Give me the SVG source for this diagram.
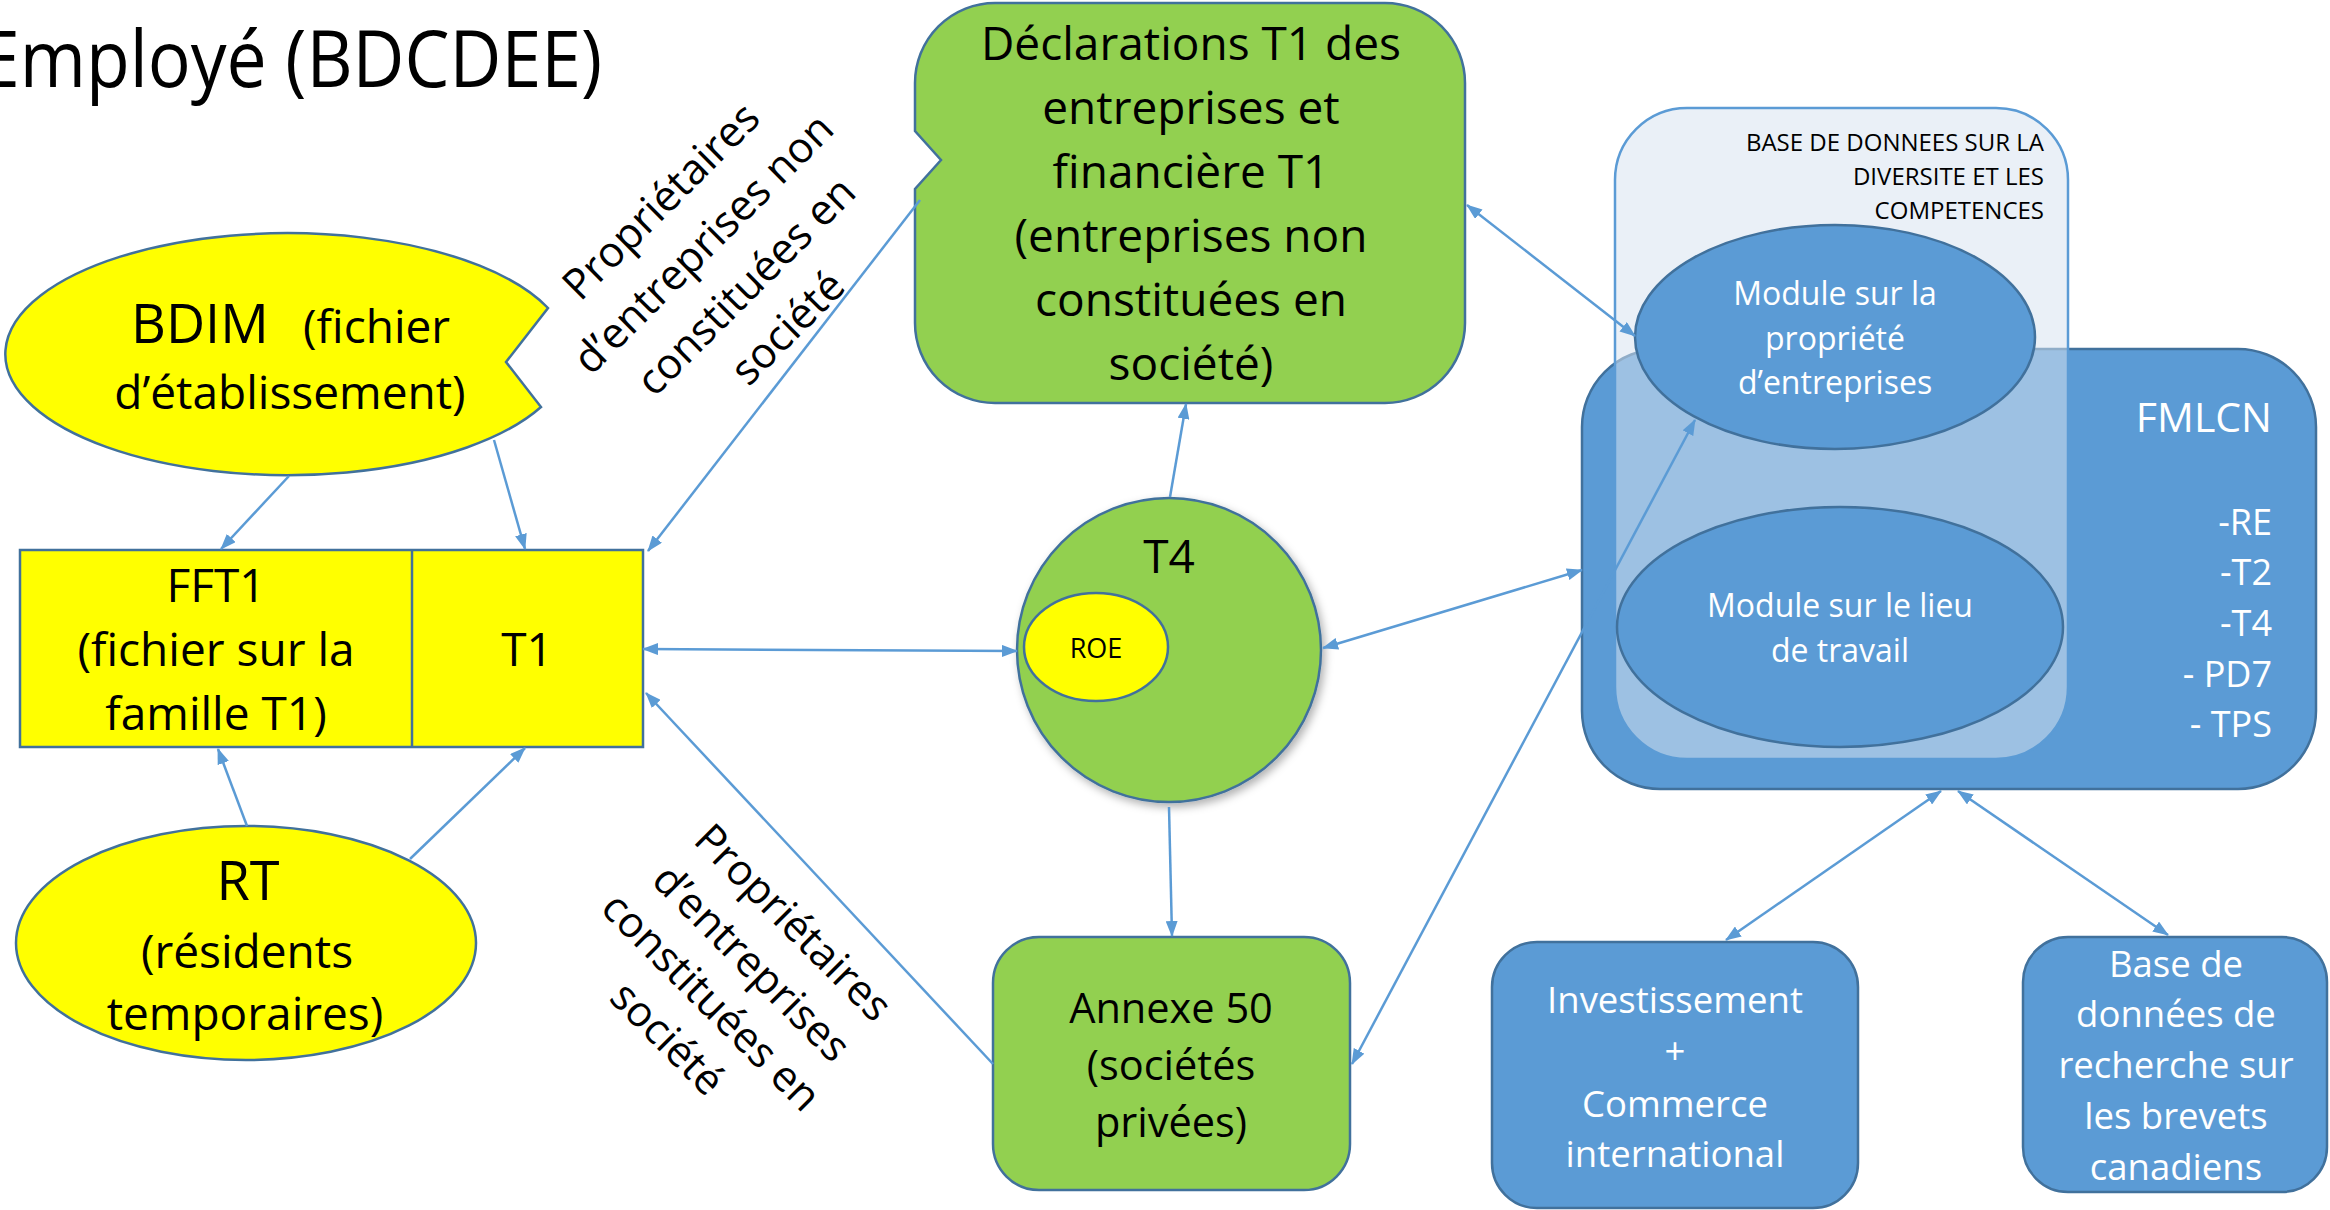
<svg xmlns="http://www.w3.org/2000/svg" width="2330" height="1210" viewBox="0 0 2330 1210">
<style>
text{font-family:"Open Sans","Liberation Sans",sans-serif;}
.blk{fill:#000;}
.wht{fill:#fff;}
.yel{fill:#FFFF00;stroke:#41719C;stroke-width:2.5;}
.grn{fill:#92D050;stroke:#41719C;stroke-width:2.5;}
.blu{fill:#5B9BD5;stroke:#41719C;stroke-width:2.5;}
.con{fill:none;stroke:#5B9BD5;stroke-width:2.5;}
.mid{text-anchor:middle;}
.end{text-anchor:end;}
</style>
<defs>
<marker id="ah" viewBox="0 0 16 12" refX="15" refY="6" markerWidth="16" markerHeight="12" markerUnits="userSpaceOnUse" orient="auto-start-reverse">
<path d="M0,0 L16,6 L0,12 Z" fill="#5B9BD5"/>
</marker>
<filter id="sh" x="-20%" y="-20%" width="140%" height="140%">
<feDropShadow dx="3" dy="4" stdDeviation="4" flood-color="#000" flood-opacity="0.3"/>
</filter>
</defs>
<rect width="2330" height="1210" fill="#fff"/>

<text id="title" x="-20" y="87" font-size="78" textLength="622" lengthAdjust="spacingAndGlyphs" class="blk">Employé (BDCDEE)</text>

<g id="bdim">
<path class="yel" d="M548,308 A282 121 0 1 0 541,407 L506,362 Z"/>
<text x="131" y="343" font-size="54" class="blk">BDIM</text>
<text x="303" y="343" font-size="46" class="blk">(fichier</text>
<text x="290" y="409" font-size="46" class="blk mid">d’établissement)</text>
</g>

<g id="fft1-t1">
<rect class="yel" x="20" y="550" width="623" height="197"/>
<line x1="412" y1="550" x2="412" y2="747" stroke="#41719C" stroke-width="2.5"/>
<text x="216" y="602" font-size="46" class="blk mid">FFT1</text>
<text x="216" y="666" font-size="46" class="blk mid">(fichier sur la</text>
<text x="216" y="730" font-size="46" class="blk mid">famille T1)</text>
<text x="527" y="666" font-size="46" class="blk mid">T1</text>
</g>

<g id="rt">
<ellipse class="yel" cx="246" cy="943" rx="230" ry="117"/>
<text x="248" y="900" font-size="54" class="blk mid">RT</text>
<text x="247" y="968" font-size="46" class="blk mid">(résidents</text>
<text x="245" y="1030" font-size="46" class="blk mid">temporaires)</text>
</g>

<g id="label-non-constituees" transform="translate(713,266) rotate(-45)">
<text x="9" y="-68" font-size="42.5" class="blk mid">Propriétaires</text>
<text x="9" y="-8" font-size="42.5" class="blk mid">d’entreprises non</text>
<text x="9" y="52" font-size="42.5" class="blk mid">constituées en</text>
<text x="9" y="111" font-size="42.5" class="blk mid">société</text>
</g>

<g id="label-constituees" transform="translate(730,983) rotate(45)">
<text x="2" y="-73" font-size="42.5" class="blk mid">Propriétaires</text>
<text x="1" y="-15" font-size="42.5" class="blk mid">d’entreprises</text>
<text x="0" y="41" font-size="42.5" class="blk mid">constituées en</text>
<text x="-5" y="98" font-size="42.5" class="blk mid">société</text>
</g>

<g id="declarations">
<path class="grn" d="M995,3 H1385 A80 80 0 0 1 1465,83 V323 A80 80 0 0 1 1385,403 H995 A80 80 0 0 1 915,323 V189 L941,160 L915,131 V83 A80 80 0 0 1 995,3 Z"/>
<text x="1191" y="60" font-size="46" class="blk mid">Déclarations T1 des</text>
<text x="1191" y="124" font-size="46" class="blk mid">entreprises et</text>
<text x="1191" y="188" font-size="46" class="blk mid">financière T1</text>
<text x="1191" y="252" font-size="46" class="blk mid">(entreprises non</text>
<text x="1191" y="316" font-size="46" class="blk mid">constituées en</text>
<text x="1191" y="380" font-size="46" class="blk mid">société)</text>
</g>

<g id="t4">
<circle class="grn" cx="1169" cy="650" r="152" filter="url(#sh)"/>
<text x="1169" y="573" font-size="46" class="blk mid">T4</text>
<ellipse class="yel" cx="1096" cy="647" rx="72" ry="54"/>
<text x="1096" y="658" font-size="27" class="blk mid">ROE</text>
</g>

<g id="annexe50">
<rect class="grn" x="993" y="937" width="357" height="253" rx="46"/>
<text x="1171" y="1023" font-size="41.5" class="blk mid">Annexe 50</text>
<text x="1171" y="1080" font-size="41.5" class="blk mid">(sociétés</text>
<text x="1171" y="1137" font-size="41.5" class="blk mid">privées)</text>
</g>

<g id="fmlcn">
<rect class="blu" x="1582" y="349" width="734" height="440" rx="78"/>
<text x="2272" y="432" font-size="41" class="wht end">FMLCN</text>
<text x="2272" y="535" font-size="36" class="wht end">-RE</text>
<text x="2272" y="585" font-size="36" class="wht end">-T2</text>
<text x="2272" y="636" font-size="36" class="wht end">-T4</text>
<text x="2272" y="687" font-size="36" class="wht end">- PD7</text>
<text x="2272" y="737" font-size="36" class="wht end">- TPS</text>
</g>

<g id="bdde">
<rect x="1615" y="108" width="453" height="651" rx="72" fill="#D7E2F0" fill-opacity="0.53" stroke="#5B9BD5" stroke-width="2.5"/>
<text x="2044" y="151" font-size="24" class="blk end">BASE DE DONNEES SUR LA</text>
<text x="2044" y="185" font-size="24" class="blk end">DIVERSITE ET LES</text>
<text x="2044" y="219" font-size="24" class="blk end">COMPETENCES</text>
</g>

<g id="module-propriete">
<ellipse class="blu" cx="1835" cy="337" rx="200" ry="112"/>
<text x="1835" y="305" font-size="32" class="wht mid">Module sur la</text>
<text x="1835" y="350" font-size="32" class="wht mid">propriété</text>
<text x="1835" y="394" font-size="32" class="wht mid">d’entreprises</text>
</g>

<g id="module-lieu">
<ellipse class="blu" cx="1840" cy="627" rx="223" ry="120"/>
<text x="1840" y="617" font-size="32" class="wht mid">Module sur le lieu</text>
<text x="1840" y="662" font-size="32" class="wht mid">de travail</text>
</g>

<g id="investissement">
<rect class="blu" x="1492" y="942" width="366" height="266" rx="45"/>
<text x="1675" y="1013" font-size="36.5" class="wht mid">Investissement</text>
<text x="1675" y="1064" font-size="36.5" class="wht mid">+</text>
<text x="1675" y="1117" font-size="36.5" class="wht mid">Commerce</text>
<text x="1675" y="1167" font-size="36.5" class="wht mid">international</text>
</g>

<g id="brevets">
<rect class="blu" x="2023" y="937" width="304" height="255" rx="45"/>
<text x="2176" y="977" font-size="36.5" class="wht mid">Base de</text>
<text x="2176" y="1027" font-size="36.5" class="wht mid">données de</text>
<text x="2176" y="1078" font-size="36.5" class="wht mid">recherche sur</text>
<text x="2176" y="1129" font-size="36.5" class="wht mid">les brevets</text>
<text x="2176" y="1180" font-size="36.5" class="wht mid">canadiens</text>
</g>

<g id="connectors">
<line class="con" x1="289" y1="476" x2="221" y2="549" marker-end="url(#ah)"/>
<line class="con" x1="494" y1="440" x2="525" y2="549" marker-end="url(#ah)"/>
<line class="con" x1="920" y1="200" x2="648" y2="551" marker-end="url(#ah)"/>
<line class="con" x1="643" y1="649" x2="1017" y2="651" marker-start="url(#ah)" marker-end="url(#ah)"/>
<line class="con" x1="993" y1="1064" x2="646" y2="693" marker-end="url(#ah)"/>
<line class="con" x1="1170" y1="497" x2="1186" y2="404" marker-end="url(#ah)"/>
<line class="con" x1="1169" y1="807" x2="1172" y2="936" marker-end="url(#ah)"/>
<line class="con" x1="1323" y1="648" x2="1582" y2="570" marker-start="url(#ah)" marker-end="url(#ah)"/>
<line class="con" x1="1467" y1="205" x2="1635" y2="336" marker-start="url(#ah)" marker-end="url(#ah)"/>
<line class="con" x1="1352" y1="1064" x2="1695" y2="420" marker-start="url(#ah)" marker-end="url(#ah)"/>
<line class="con" x1="1941" y1="791" x2="1726" y2="940" marker-start="url(#ah)" marker-end="url(#ah)"/>
<line class="con" x1="1958" y1="791" x2="2168" y2="935" marker-start="url(#ah)" marker-end="url(#ah)"/>
<line class="con" x1="247" y1="826" x2="218" y2="749" marker-end="url(#ah)"/>
<line class="con" x1="410" y1="859" x2="525" y2="748" marker-end="url(#ah)"/>
</g>
</svg>
